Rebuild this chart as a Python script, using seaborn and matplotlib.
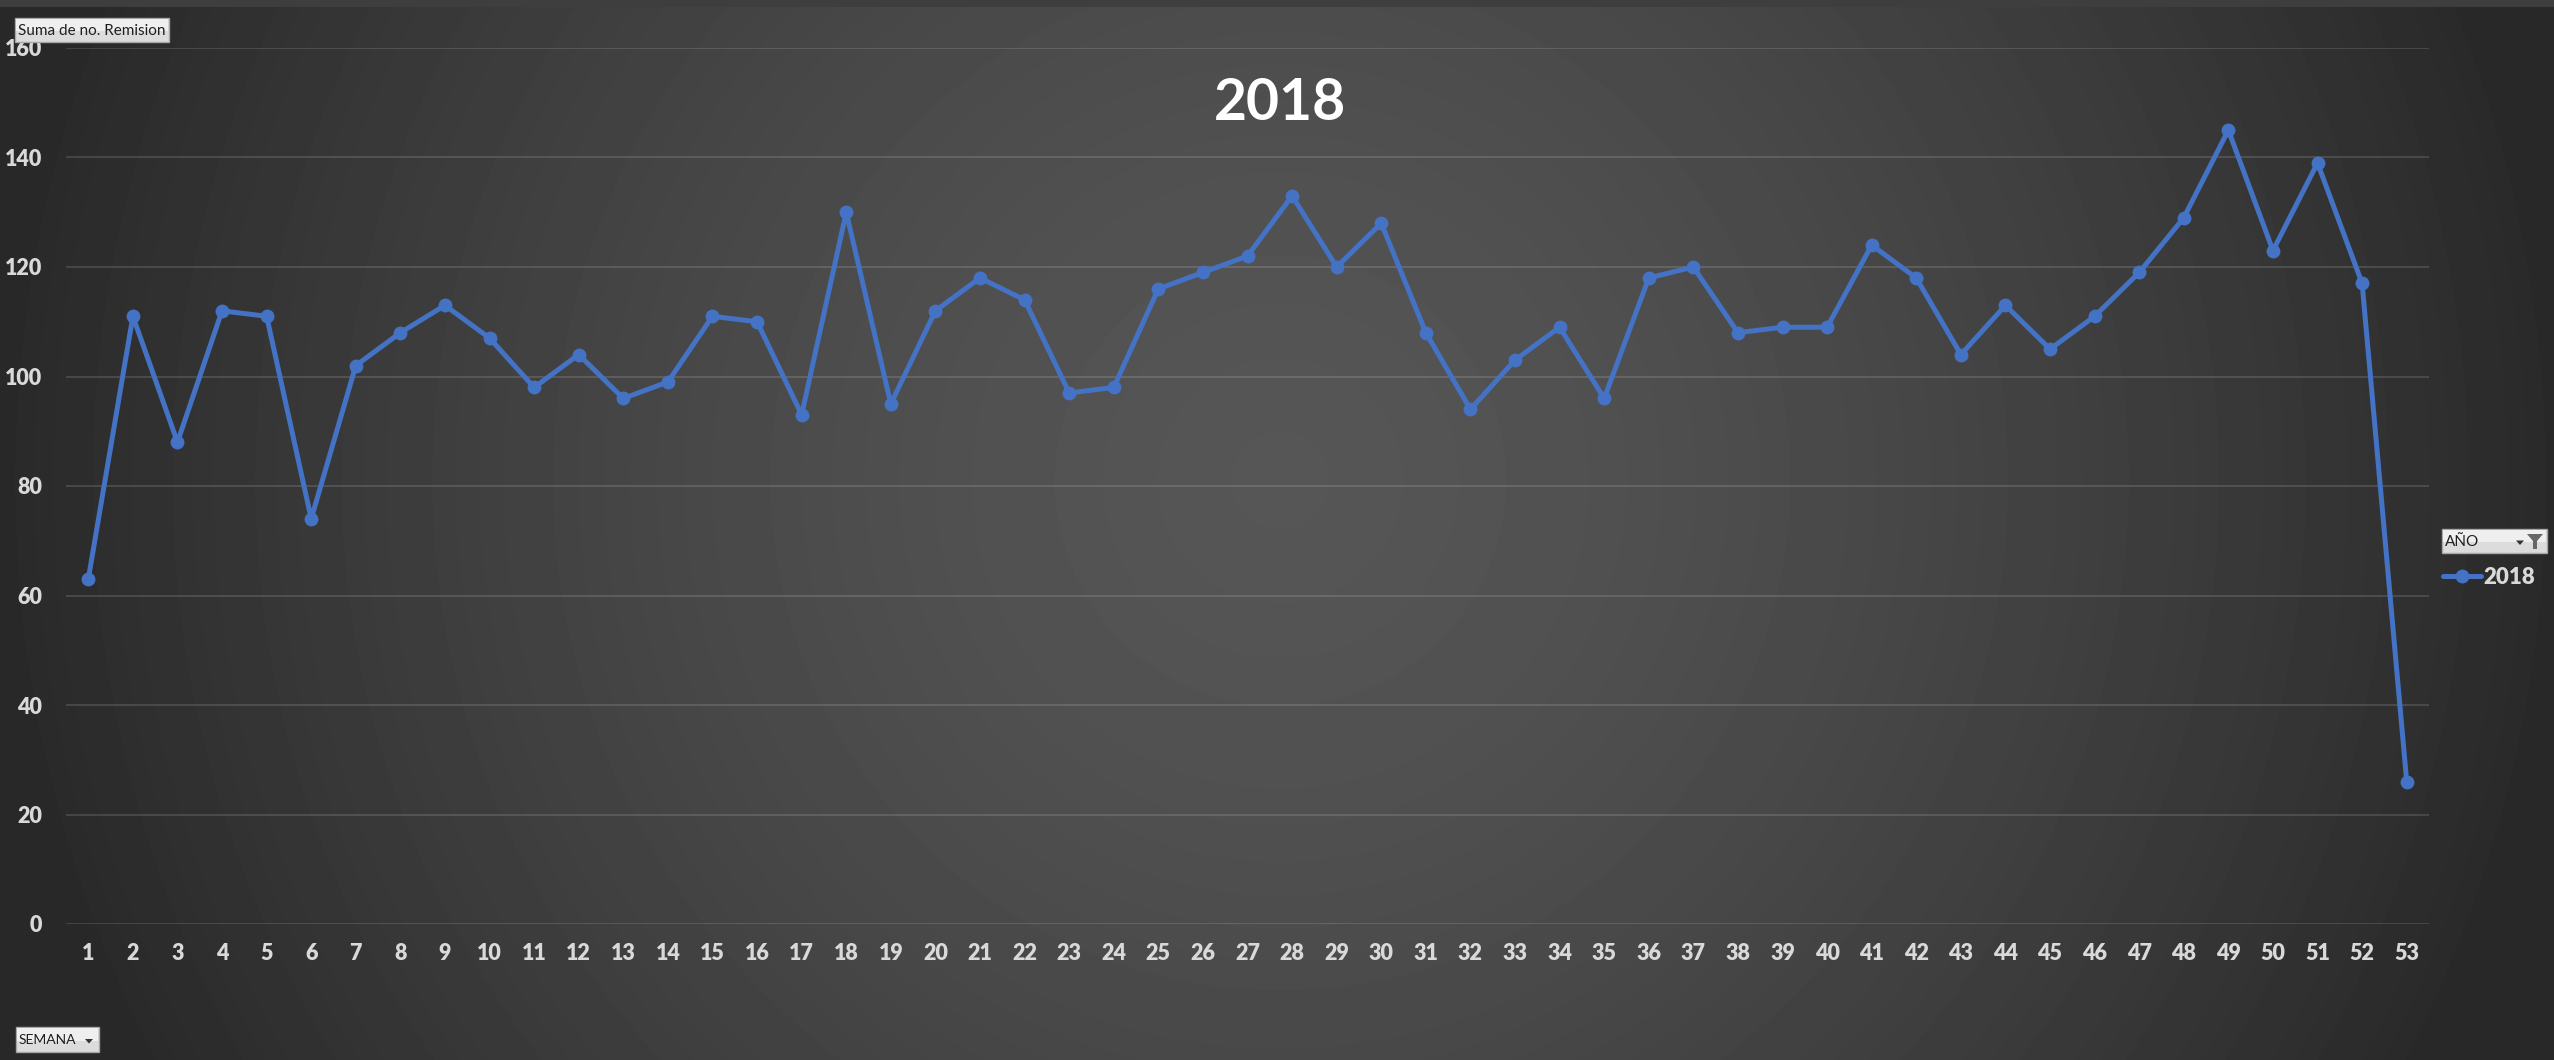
"""
Recreación del gráfico dinámico de Excel: Suma de no. Remision por SEMANA (2018).
"""

import numpy as np
import pandas as pd
import matplotlib
matplotlib.use("Agg")
import matplotlib.pyplot as plt
from matplotlib.patches import Rectangle, Polygon
import seaborn as sns

# ── Datos ───────────────────────────────────────────────────────────────────
semanas = list(range(1, 54))
remisiones_2018 = [
    63, 111, 88, 112, 111, 74, 102, 108, 113, 107,
    98, 104, 96, 99, 111, 110, 93, 130, 95, 112,
    118, 114, 97, 98, 116, 119, 122, 133, 120, 128,
    108, 94, 103, 109, 96, 118, 120, 108, 109, 109,
    124, 118, 104, 113, 105, 111, 119, 129, 145, 123,
    139, 117, 26,
]
y_ticks = [0, 20, 40, 60, 80, 100, 120, 140, 160]
titulo = "2018"
serie = "2018"

df = pd.DataFrame({"SEMANA": semanas, "Remisiones": remisiones_2018})

# ── Estilo ──────────────────────────────────────────────────────────────────
sns.set_theme(style="dark")
plt.rcParams["font.family"] = ["Lato", "DejaVu Sans"]

W, H = 2554, 1060
AZUL = "#4472C4"
GRIS_TXT = "#d9d9d9"

fig = plt.figure(figsize=(W / 100, H / 100), dpi=100)

# Fondo con degradado radial (estilo Excel)
ax_bg = fig.add_axes([0, 0, 1, 1], zorder=0)
yy, xx = np.mgrid[0:H, 0:W]
r = np.sqrt(((xx - 1280) / 1300.0) ** 2 + ((yy - 480) / 1300.0) ** 2)
r = np.clip(r, 0, 1)
val = (86 - 46 * r ** 1.5) / 255.0
ax_bg.imshow(val, cmap="gray", vmin=0, vmax=1, aspect="auto",
             extent=(0, W, H, 0), interpolation="bilinear")
ax_bg.add_patch(Rectangle((0, 0), W, 7, color="#3e3e3e", lw=0))
ax_bg.set_xlim(0, W)
ax_bg.set_ylim(H, 0)
ax_bg.axis("off")

# Área de trazado
left, right, top, bottom = 66, 2429, 48, 924
ax = fig.add_axes([left / W, 1 - bottom / H, (right - left) / W, (bottom - top) / H],
                  zorder=1)
ax.patch.set_alpha(0)

sns.lineplot(data=df, x="SEMANA", y="Remisiones", ax=ax, color=AZUL,
             linewidth=3.6, marker="o", markersize=10, markeredgewidth=0,
             label=serie)

ax.set_xlim(0.5, 53.5)
ax.set_ylim(0, 160)
ax.set_xticks(semanas)
ax.set_xticklabels([str(s) for s in semanas], fontweight="heavy", fontsize=15.5)
ax.set_yticks(y_ticks)
ax.set_yticklabels([str(v) for v in y_ticks], fontweight="heavy", fontsize=15.5)
ax.set_xlabel("")
ax.set_ylabel("")
for s in ax.spines.values():
    s.set_visible(False)
ax.grid(axis="y", color="white", alpha=0.13, linewidth=1.5)
ax.grid(axis="x", visible=False)
ax.tick_params(axis="x", length=0, pad=14, labelcolor=GRIS_TXT)
ax.tick_params(axis="y", length=0, pad=17, labelcolor=GRIS_TXT)

ax.legend(loc="center left", bbox_to_anchor=(2443 / W, 1 - 577 / H),
          bbox_transform=fig.transFigure, frameon=False, handlelength=1.7,
          handletextpad=0.1, borderaxespad=0, borderpad=0,
          prop={"weight": "heavy", "size": 16}, labelcolor=GRIS_TXT)

fig.text(1280 / W, 1 - 103 / H, titulo, ha="center", va="center",
         fontsize=41, fontweight="bold", color="white")

# Botones del gráfico dinámico
ax_ui = fig.add_axes([0, 0, 1, 1], zorder=2)
ax_ui.patch.set_alpha(0)
ax_ui.set_xlim(0, W)
ax_ui.set_ylim(H, 0)
ax_ui.axis("off")


def boton(x0, y0, x1, y1, texto, flecha=False, filtro=False, tam=11):
    ax_ui.add_patch(Rectangle((x0, y0), x1 - x0, y1 - y0, facecolor="#dcdcdc",
                              edgecolor="#a6a6a6", linewidth=1))
    ax_ui.add_patch(Rectangle((x0 + 1, y0 + 1), x1 - x0 - 2, (y1 - y0) / 2,
                              facecolor="#efefef", linewidth=0))
    ax_ui.text(x0 + 3, (y0 + y1) / 2 + 1, texto, ha="left", va="center",
               fontsize=tam, color="#1e1e1e")
    if flecha:
        xa = x1 - 10 if not filtro else x1 - 27
        ya = (y0 + y1) / 2 + 1
        ax_ui.add_patch(Polygon([[xa - 4, ya - 1.5], [xa + 4, ya - 1.5], [xa, ya + 3]],
                                closed=True, color="#333333", lw=0))
    if filtro:
        xf = x1 - 12
        yc = y0 + 5
        ax_ui.add_patch(Polygon([[xf - 8, yc], [xf + 8, yc], [xf + 2, yc + 7],
                                 [xf + 2, yc + 15], [xf - 2, yc + 15], [xf - 2, yc + 7]],
                                closed=True, color="#666666", lw=0))


boton(15, 18, 169, 42, "Suma de no. Remision")
boton(16, 1027, 99, 1052, "SEMANA", flecha=True, tam=10)
boton(2442, 529, 2547, 553, "AÑO", flecha=True, filtro=True)

plt.savefig("out.png", dpi=100)
